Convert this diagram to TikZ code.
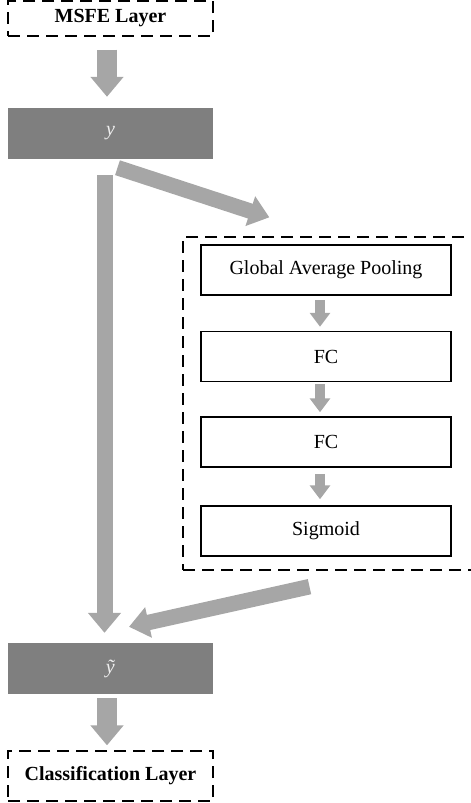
\documentclass[tikz,border=0pt]{standalone}
\usepackage{fontspec}
\setmainfont{Liberation Serif}
\usetikzlibrary{arrows.meta}
\definecolor{arrowgray}{HTML}{A6A6A6}
\definecolor{boxgray}{HTML}{7F7F7F}
\definecolor{textlight}{HTML}{EEEEEE}
\begin{document}
\begin{tikzpicture}[x=1pt,y=-1pt,
  font=\fontsize{20}{24}\selectfont,
  dbox/.style={draw=black, line width=1.3pt, dash pattern=on 12pt off 7pt, minimum width=205pt, inner sep=0pt},
  graybox/.style={fill=boxgray, draw=none, minimum width=205pt, minimum height=51pt, inner sep=0pt, text=textlight},
  whitebox/.style={draw=black, line width=1.5pt, fill=white, minimum width=250pt, minimum height=50pt, inner sep=0pt},
  bigarrow/.style={draw=arrowgray, line width=#1, -{Triangle[length=20pt,width=32pt]}},
  smallarrow/.style={draw=arrowgray, line width=10pt, -{Triangle[length=14pt,width=20pt]}},
  diagarrow/.style={draw=arrowgray, line width=15.5pt, -{Triangle[length=20pt,width=30pt]}}
]
\useasboundingbox (0,0) rectangle (471,803);

\node[dbox, minimum height=35pt] (msfe) at (110.5,18.5) {\textbf{MSFE Layer}};
\node[graybox] (ybox) at (110.5,133.5) {\textit{y}};
\node[graybox] (ybar) at (110.5,668.5) {\textit{ỹ}};
\node[dbox, minimum height=50pt] (cls) at (110.5,776) {\textbf{Classification Layer}};

\node[draw=black, line width=1.3pt, dash pattern=on 12pt off 7pt, minimum width=297pt, minimum height=333pt, inner sep=0pt] (se) at (331.5,403.5) {};

\node[whitebox] (gap) at (326,270) {Global Average Pooling};
\node[whitebox] (fc1) at (326,356.5) {FC};
\node[whitebox] (fc2) at (326,442) {FC};
\node[whitebox] (sig) at (326,531) {Sigmoid};

% main vertical arrows
\draw[bigarrow=20pt] ([xshift=-3.5pt,yshift=-13pt]msfe.south) -- ([xshift=-3.5pt,yshift=11pt]ybox.north);
\draw[bigarrow=16pt] ([xshift=-6pt,yshift=-16pt]ybox.south) -- ([xshift=-6pt,yshift=10pt]ybar.north);
\draw[bigarrow=20pt] ([xshift=-3.5pt,yshift=-4pt]ybar.south) -- ([xshift=-3.5pt,yshift=5pt]cls.north);

% diagonal arrows
\draw[diagarrow] ([xshift=7pt,yshift=-8.5pt]ybox.south) -- ([xshift=87pt,yshift=19pt]se.north west);
\draw[diagarrow] ([xshift=-22pt,yshift=-16pt]se.south) -- ([xshift=18.5pt,yshift=16pt]ybar.north);

% inner arrows
\draw[smallarrow] ([xshift=-6pt,yshift=-4pt]gap.south) -- ([xshift=-6pt,yshift=4pt]fc1.north);
\draw[smallarrow] ([xshift=-6pt,yshift=-2pt]fc1.south) -- ([xshift=-6pt,yshift=4pt]fc2.north);
\draw[smallarrow] ([xshift=-6pt,yshift=-6pt]fc2.south) -- ([xshift=-6pt,yshift=6pt]sig.north);
\end{tikzpicture}
\end{document}
